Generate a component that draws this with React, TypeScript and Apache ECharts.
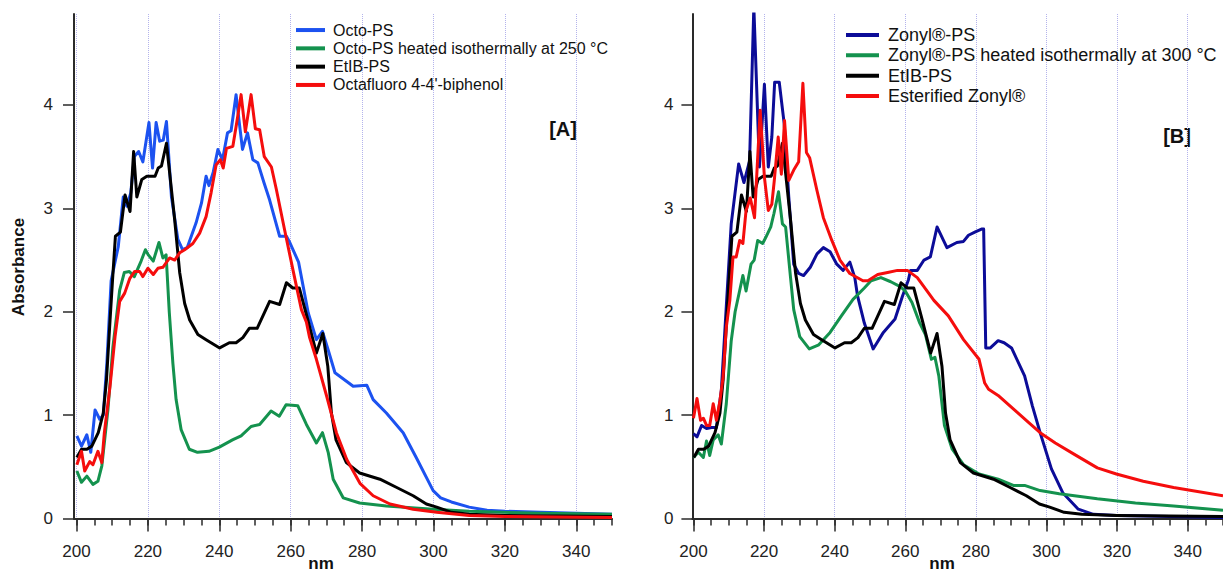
import React, { useEffect, useRef } from 'react';
import * as echarts from 'echarts';

// ---- tick values ----
const xTickValues = [200, 220, 240, 260, 280, 300, 320, 340];
const xMinorValues = [200, 205, 210, 215, 220, 225, 230, 235, 240, 245, 250, 255, 260, 265, 270, 275, 280, 285, 290, 295, 300, 305, 310, 315, 320, 325, 330, 335, 340, 345, 350];
const yTickValues = [0, 1, 2, 3, 4];

// ---- legends ----
const legendA = ['Octo-PS', 'Octo-PS heated isothermally at 250 °C', 'EtIB-PS', "Octafluoro 4-4'-biphenol"];
const legendB = ['Zonyl®-PS', 'Zonyl®-PS heated isothermally at 300 °C', 'EtIB-PS', 'Esterified Zonyl®'];

// ---- panel A data: [nm, absorbance] ----
const octoPS: [number, number][] = [
  [200.1, 0.80], [201.4, 0.70], [202.9, 0.81], [204.0, 0.64], [205.2, 1.05], [206.5, 0.96], [207.5, 1.00],
  [208.5, 1.50], [209.7, 2.30], [211.7, 2.63], [213.1, 3.11], [214.1, 3.02], [215.2, 3.15], [216.2, 3.50],
  [217.4, 3.55], [218.6, 3.45], [220.3, 3.83], [221.3, 3.39], [222.3, 3.83], [223.3, 3.65], [224.3, 3.66],
  [225.2, 3.84], [226.6, 3.11], [228.4, 2.70], [229.7, 2.60], [231.0, 2.62], [233.5, 2.86], [235.0, 3.05],
  [236.3, 3.31], [237.1, 3.22], [238.3, 3.35], [239.6, 3.57], [240.9, 3.47], [242.3, 3.73], [243.3, 3.75],
  [244.7, 4.10], [245.7, 3.80], [246.5, 3.57], [247.9, 3.73], [249.4, 3.47], [250.8, 3.44], [252.5, 3.25],
  [254.1, 3.08], [256.9, 2.73], [258.8, 2.73], [259.6, 2.68], [262.2, 2.48], [264.9, 1.99], [267.2, 1.73],
  [268.9, 1.81], [270.5, 1.63], [272.4, 1.41], [277.5, 1.28], [281.3, 1.29], [283.1, 1.15], [286.8, 1.02],
  [291.5, 0.83], [295.3, 0.58], [299.9, 0.27], [302.0, 0.20], [305.0, 0.16], [310.0, 0.11], [315.0, 0.08],
  [320.0, 0.07], [330.0, 0.06], [340.0, 0.05], [350.0, 0.04],
];

const octoHeated: [number, number][] = [
  [200.1, 0.46], [201.4, 0.35], [202.9, 0.41], [204.6, 0.33], [206.0, 0.36], [207.1, 0.51], [208.8, 1.05],
  [210.2, 1.66], [212.1, 2.21], [213.4, 2.38], [214.8, 2.39], [216.2, 2.34], [218.1, 2.49], [219.3, 2.60],
  [220.1, 2.55], [221.5, 2.49], [223.1, 2.67], [224.2, 2.52], [225.1, 2.55], [226.0, 1.99], [227.0, 1.50],
  [227.9, 1.15], [229.3, 0.86], [231.6, 0.67], [233.9, 0.64], [237.1, 0.65], [240.0, 0.69], [243.7, 0.76],
  [246.1, 0.80], [248.9, 0.89], [251.3, 0.91], [254.5, 1.04], [256.8, 0.99], [258.7, 1.10], [262.0, 1.09],
  [264.4, 0.91], [267.2, 0.73], [268.9, 0.83], [270.5, 0.64], [271.9, 0.38], [274.7, 0.20], [279.3, 0.15],
  [286.8, 0.12], [299.9, 0.09], [310.0, 0.07], [330.0, 0.05], [350.0, 0.04],
];

const etibPS: [number, number][] = [
  [200.1, 0.59], [201.4, 0.67], [202.9, 0.67], [204.3, 0.70], [206.1, 0.83], [207.5, 1.02], [208.4, 1.34],
  [209.4, 1.92], [210.1, 2.31], [210.9, 2.73], [212.3, 2.77], [213.6, 3.13], [215.0, 2.97], [216.0, 3.55],
  [216.9, 3.11], [218.3, 3.28], [219.7, 3.31], [222.0, 3.31], [222.9, 3.39], [223.8, 3.41], [225.2, 3.63],
  [226.1, 3.34], [227.5, 2.89], [228.9, 2.38], [230.3, 2.08], [231.7, 1.92], [234.0, 1.78], [236.3, 1.73],
  [240.1, 1.65], [242.8, 1.70], [244.7, 1.70], [246.6, 1.75], [248.4, 1.84], [250.6, 1.84], [254.1, 2.10],
  [256.9, 2.07], [258.8, 2.28], [260.6, 2.23], [262.4, 2.23], [264.8, 1.92], [267.2, 1.60], [269.0, 1.79],
  [270.4, 1.47], [271.4, 1.02], [272.7, 0.76], [275.6, 0.54], [279.3, 0.44], [285.0, 0.38], [289.7, 0.30],
  [294.3, 0.22], [298.0, 0.14], [300.9, 0.11], [305.0, 0.06], [310.0, 0.04], [320.0, 0.03], [350.0, 0.02],
];

const octafluoro: [number, number][] = [
  [200.1, 0.52], [201.4, 0.65], [202.3, 0.46], [203.7, 0.55], [204.6, 0.52], [206.0, 0.65], [207.1, 0.54],
  [207.8, 0.83], [209.4, 1.28], [210.8, 1.76], [212.1, 2.10], [213.5, 2.18], [214.9, 2.32], [216.3, 2.39],
  [217.7, 2.39], [218.6, 2.34], [220.0, 2.42], [221.5, 2.36], [222.8, 2.42], [224.2, 2.43], [226.1, 2.52],
  [227.5, 2.50], [228.9, 2.57], [230.3, 2.60], [232.6, 2.66], [234.5, 2.76], [236.3, 2.92], [237.7, 3.15],
  [239.1, 3.42], [240.3, 3.47], [241.1, 3.39], [242.0, 3.58], [243.8, 3.60], [244.8, 3.81], [246.1, 4.10],
  [247.3, 3.74], [248.9, 4.10], [250.1, 3.77], [251.3, 3.76], [252.6, 3.50], [254.6, 3.40], [256.0, 3.18],
  [258.3, 2.79], [260.6, 2.41], [263.0, 2.02], [264.4, 1.90], [265.3, 1.75], [267.2, 1.54], [270.1, 1.18],
  [272.8, 0.83], [275.7, 0.57], [279.4, 0.34], [283.1, 0.22], [287.8, 0.14], [294.3, 0.09], [300.9, 0.06],
  [310.0, 0.03], [320.0, 0.02], [350.0, 0.01],
];

// ---- panel B data: [nm, absorbance] ----
const zonylPS: [number, number][] = [
  [200.0, 0.82], [201.0, 0.79], [202.3, 0.90], [203.7, 0.87], [205.1, 0.88], [206.5, 0.88], [207.9, 1.24],
  [209.3, 2.05], [210.7, 2.85], [212.8, 3.43], [214.3, 3.25], [215.9, 3.46], [217.1, 4.95], [218.7, 3.40],
  [220.1, 4.20], [221.2, 3.40], [222.2, 3.69], [223.0, 4.22], [224.3, 4.22], [225.7, 3.82], [227.0, 3.11],
  [228.4, 2.46], [229.8, 2.37], [231.2, 2.35], [233.1, 2.43], [235.0, 2.56], [236.8, 2.62], [238.7, 2.58],
  [240.6, 2.46], [242.4, 2.40], [244.3, 2.48], [245.7, 2.33], [246.5, 2.15], [248.4, 1.89], [250.9, 1.64],
  [253.8, 1.80], [257.1, 1.93], [259.2, 2.15], [260.9, 2.31], [261.5, 2.40], [263.4, 2.40], [265.3, 2.50],
  [267.1, 2.53], [269.0, 2.82], [271.8, 2.62], [274.6, 2.67], [276.5, 2.68], [277.9, 2.74], [279.7, 2.77],
  [281.6, 2.80], [282.2, 2.80], [282.8, 1.65], [284.1, 1.65], [286.3, 1.72], [288.0, 1.70], [290.1, 1.65],
  [293.8, 1.38], [296.0, 1.09], [298.2, 0.83], [301.4, 0.48], [304.6, 0.25], [309.0, 0.09], [313.3, 0.04],
  [319.8, 0.03], [350.0, 0.01],
];

const zonylHeated: [number, number][] = [
  [200.0, 0.59], [201.4, 0.64], [202.8, 0.59], [203.7, 0.75], [204.6, 0.61], [205.6, 0.76], [207.0, 0.81],
  [207.9, 0.72], [209.3, 1.11], [210.7, 1.72], [211.8, 2.00], [214.0, 2.35], [214.9, 2.20], [216.3, 2.46],
  [217.2, 2.50], [218.2, 2.69], [219.6, 2.66], [220.5, 2.72], [221.9, 2.82], [222.8, 2.95], [224.1, 3.16],
  [225.2, 2.85], [226.1, 2.82], [227.5, 2.33], [228.4, 2.02], [230.1, 1.76], [232.8, 1.64], [235.5, 1.68],
  [238.7, 1.80], [241.9, 1.96], [245.2, 2.12], [248.4, 2.23], [250.3, 2.30], [253.1, 2.33], [255.9, 2.29],
  [258.7, 2.24], [260.0, 2.20], [261.9, 2.09], [264.1, 1.89], [265.7, 1.78], [267.4, 1.54], [268.4, 1.56],
  [269.5, 1.38], [271.1, 0.90], [273.3, 0.67], [276.5, 0.52], [280.9, 0.43], [286.3, 0.38], [290.6, 0.32],
  [293.8, 0.32], [298.2, 0.27], [303.6, 0.24], [314.4, 0.19], [325.2, 0.15], [336.0, 0.12], [350.0, 0.08],
];

const esterified: [number, number][] = [
  [200.0, 0.97], [201.0, 1.16], [202.0, 0.95], [202.8, 0.97], [203.7, 0.90], [204.6, 0.90], [205.6, 1.11],
  [206.5, 0.95], [207.5, 1.14], [208.4, 1.37], [209.3, 1.85], [210.3, 2.11], [211.2, 2.53], [212.1, 2.53],
  [213.1, 2.69], [214.0, 2.66], [214.9, 2.98], [216.1, 3.10], [217.3, 2.91], [218.9, 3.95], [220.1, 3.30],
  [221.2, 2.98], [222.2, 3.04], [222.9, 3.27], [224.0, 3.69], [224.9, 3.33], [225.8, 3.85], [227.0, 3.27],
  [228.4, 3.37], [229.8, 3.45], [231.0, 4.21], [232.0, 3.54], [232.9, 3.49], [235.0, 3.17], [236.8, 2.91],
  [239.2, 2.69], [241.5, 2.50], [244.3, 2.37], [248.0, 2.30], [249.4, 2.30], [252.2, 2.36], [255.0, 2.38],
  [257.8, 2.40], [260.6, 2.40], [263.4, 2.33], [266.2, 2.20], [268.1, 2.11], [272.2, 1.96], [276.5, 1.73],
  [280.9, 1.54], [282.5, 1.31], [283.6, 1.25], [286.3, 1.19], [290.6, 1.06], [294.9, 0.93], [298.2, 0.83],
  [302.5, 0.73], [307.9, 0.62], [314.4, 0.49], [319.8, 0.43], [327.4, 0.36], [336.0, 0.30], [350.0, 0.22],
];

const FONT = '"Liberation Sans", Arial, Helvetica, sans-serif';
const AXIS_COLOR = '#2a2a2a';
const GRID_COLOR = '#b3b3ec';

function xAxes(gridIndex: number, min: number) {
  return [
    {
      type: 'value', gridIndex, min, max: 350, position: 'bottom',
      axisLine: { show: true, onZero: false, lineStyle: { color: AXIS_COLOR, width: 2 } },
      axisTick: { show: true, customValues: xTickValues, length: 13, lineStyle: { color: AXIS_COLOR, width: 1.5 } },
      axisLabel: { show: true, customValues: xTickValues, margin: 24, fontSize: 17, color: '#222', fontFamily: FONT },
      splitLine: { show: true, lineStyle: { color: GRID_COLOR, type: 'dotted', width: 1 } },
    },
    {
      type: 'value', gridIndex, min, max: 350, position: 'bottom',
      axisLine: { show: false, onZero: false },
      axisTick: { show: true, customValues: xMinorValues, length: 7, lineStyle: { color: AXIS_COLOR, width: 1.5 } },
      axisLabel: { show: false },
      splitLine: { show: false },
    },
  ];
}

function yAxis(gridIndex: number, margin: number) {
  return {
    type: 'value', gridIndex, min: 0, max: 4.88,
    axisLine: { show: true, onZero: false, lineStyle: { color: AXIS_COLOR, width: 2 } },
    axisTick: { show: true, customValues: yTickValues, length: 11, lineStyle: { color: AXIS_COLOR, width: 1.5 } },
    axisLabel: { show: true, customValues: yTickValues, margin, fontSize: 17, color: '#222', fontFamily: FONT },
    splitLine: { show: false },
  };
}

function line(name: string, data: [number, number][], color: string, xAxisIndex: number, yAxisIndex: number) {
  return {
    type: 'line', name, data, xAxisIndex, yAxisIndex,
    showSymbol: false, symbol: 'none', clip: true,
    lineStyle: { color, width: 3, join: 'round' },
    itemStyle: { color },
    emphasis: { disabled: true },
  };
}

export default function App() {
  const ref = useRef<HTMLDivElement>(null);
  useEffect(() => {
    if (!ref.current) return;
    const chart = echarts.init(ref.current, null, { renderer: 'svg' });
    const option: any = {
      animation: false,
      backgroundColor: '#ffffff',
      grid: [
        { left: 74, right: 611, top: 14, bottom: 54.5 },
        { left: 692.4, right: -5.3, top: 14, bottom: 54.5 },
      ],
      xAxis: [...xAxes(0, 199.3), ...xAxes(1, 199.7)],
      yAxis: [yAxis(0, 21), yAxis(1, 19)],
      legend: [
        {
          data: legendA, orient: 'vertical', left: 296, top: 20.9, padding: 0,
          icon: 'rect', itemWidth: 29, itemHeight: 4, itemGap: 0, selectedMode: false,
          textStyle: { fontSize: 16, lineHeight: 18.3, color: '#111', fontFamily: FONT, padding: [0, 0, 0, 3] },
        },
        {
          data: legendB, orient: 'vertical', left: 846, top: 24.9, padding: 0,
          icon: 'rect', itemWidth: 33, itemHeight: 4, itemGap: 0, selectedMode: false,
          textStyle: { fontSize: 18, lineHeight: 20.3, color: '#111', fontFamily: FONT, padding: [0, 0, 0, 4] },
        },
      ],
      series: [
        line(legendA[0], octoPS, '#1c52f0', 0, 0),
        line(legendA[1], octoHeated, '#14924e', 0, 0),
        line(legendA[2], etibPS, '#000000', 0, 0),
        line(legendA[3], octafluoro, '#f50d0d', 0, 0),
        line(legendB[0], zonylPS, '#0c0c98', 2, 1),
        line(legendB[1], zonylHeated, '#14924e', 2, 1),
        line(legendB[2], etibPS, '#000000', 2, 1),
        line(legendB[3], esterified, '#f50d0d', 2, 1),
      ],
      graphic: [
        {
          type: 'text', x: 18.5, y: 267, rotation: Math.PI / 2,
          style: { text: 'Absorbance', font: `bold 17px ${FONT}`, align: 'center', verticalAlign: 'middle', fill: '#111' },
        },
        {
          type: 'text', x: 321, y: 563,
          style: { text: 'nm', font: `bold 17px ${FONT}`, align: 'center', verticalAlign: 'middle', fill: '#111' },
        },
        {
          type: 'text', x: 942, y: 563,
          style: { text: 'nm', font: `bold 17px ${FONT}`, align: 'center', verticalAlign: 'middle', fill: '#111' },
        },
        {
          type: 'text', x: 563, y: 129,
          style: { text: '[A]', font: `bold 20px ${FONT}`, align: 'center', verticalAlign: 'middle', fill: '#111' },
        },
        {
          type: 'text', x: 1177, y: 136,
          style: { text: '[B]', font: `bold 20px ${FONT}`, align: 'center', verticalAlign: 'middle', fill: '#111' },
        },
      ],
    };
    chart.setOption(option);
    return () => chart.dispose();
  }, []);
  return (
    <div
      ref={ref}
      style={{ position: 'fixed', left: 0, top: 0, width: 1223, height: 573, overflow: 'hidden', background: '#fff' }}
    />
  );
}
